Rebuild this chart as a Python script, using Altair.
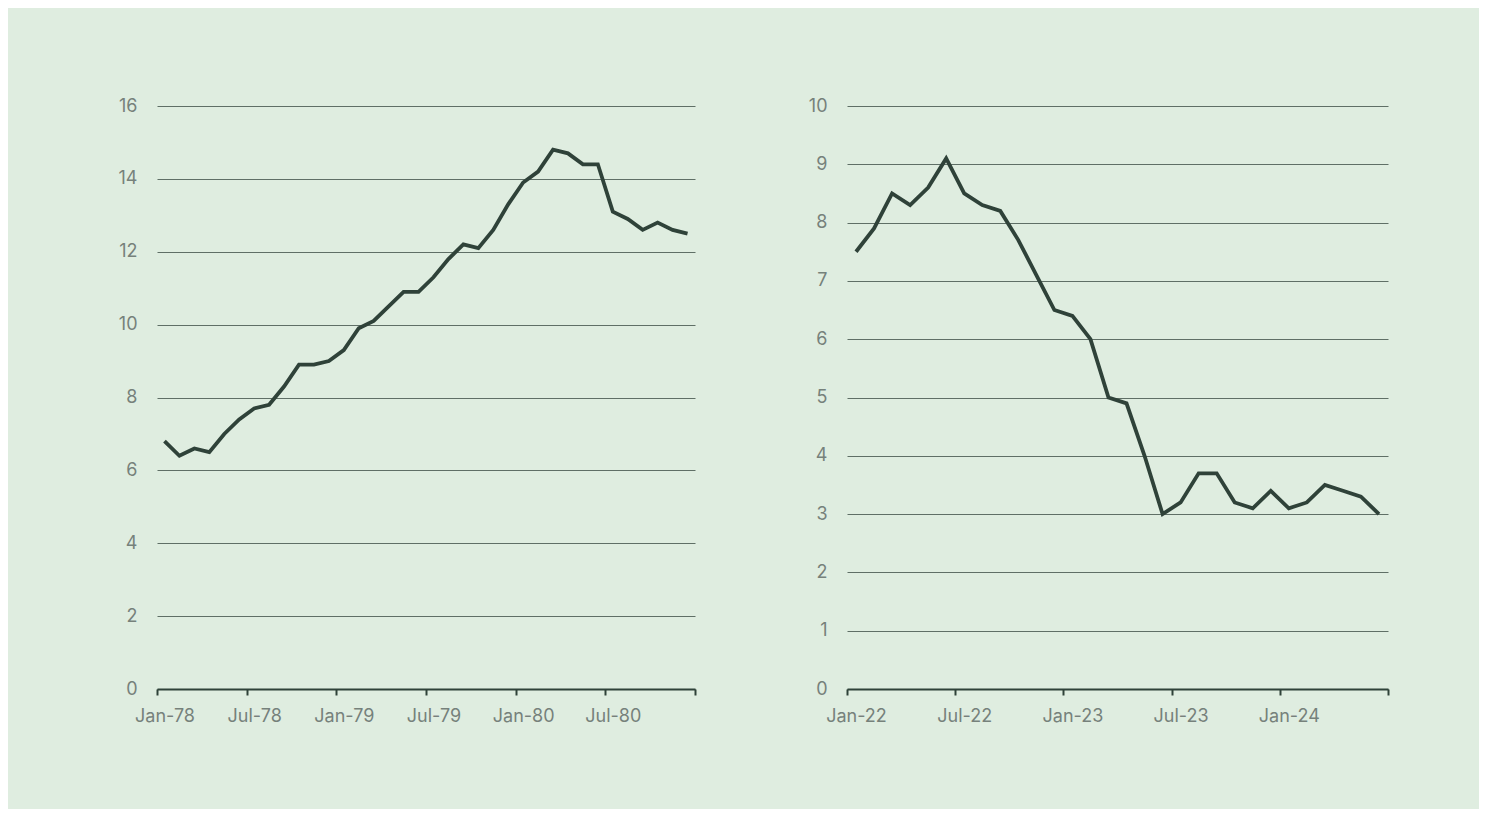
import altair as alt
import pandas as pd

# US CPI inflation, % year on year (monthly)
cpi_1978_1980 = [6.8, 6.4, 6.6, 6.5, 7.0, 7.4, 7.7, 7.8, 8.3, 8.9, 8.9, 9.0,
                 9.3, 9.9, 10.1, 10.5, 10.9, 10.9, 11.3, 11.8, 12.2, 12.1, 12.6, 13.3,
                 13.9, 14.2, 14.8, 14.7, 14.4, 14.4, 13.1, 12.9, 12.6, 12.8, 12.6, 12.5]
cpi_2022_2024 = [7.5, 7.9, 8.5, 8.3, 8.6, 9.1, 8.5, 8.3, 8.2, 7.7, 7.1, 6.5,
                 6.4, 6.0, 5.0, 4.9, 4.0, 3.0, 3.2, 3.7, 3.7, 3.2, 3.1, 3.4,
                 3.1, 3.2, 3.5, 3.4, 3.3, 3.0]
left_tick_labels = ["Jan-78", "Jul-78", "Jan-79", "Jul-79", "Jan-80", "Jul-80", ""]
right_tick_labels = ["Jan-22", "Jul-22", "Jan-23", "Jul-23", "Jan-24", ""]

LINE = "#2f4239"
GRID = "#5f6f66"
LABEL = "#76817b"
BG = "#dfede0"
FONT = "Inter"


def panel(values, labels, ymax, ystep, label_off, width):
    n_months = (len(labels) - 1) * 6
    df = pd.DataFrame({"m": [i + 0.5 for i in range(len(values))], "v": values})
    expr = "[" + ",".join(f"'{l}'" for l in labels) + "][round(datum.value/6)]"
    return alt.Chart(df).mark_line(color=LINE, strokeWidth=3.8).encode(
        x=alt.X("m:Q",
                scale=alt.Scale(domain=[0, n_months], nice=False, zero=False),
                axis=alt.Axis(values=list(range(0, n_months + 1, 6)), labelExpr=expr,
                              labelOffset=label_off, labelFlush=False, title=None,
                              grid=False, domain=True, domainColor=LINE, domainWidth=2,
                              ticks=True, tickSize=6, tickColor=LINE, tickWidth=2,
                              labelPadding=12, labelFontSize=18, labelColor=LABEL,
                              labelFont=FONT)),
        y=alt.Y("v:Q",
                scale=alt.Scale(domain=[0, ymax], nice=False),
                axis=alt.Axis(values=list(range(0, ymax + 1, ystep)), title=None,
                              grid=True, gridColor=GRID, gridWidth=1, domain=False,
                              ticks=False, labelPadding=20, labelFontSize=18,
                              labelColor=LABEL, labelFont=FONT)),
    ).properties(width=width, height=583)


left = panel(cpi_1978_1980, left_tick_labels, 16, 2, 7.5, 538)
right = panel(cpi_2022_2024, right_tick_labels, 10, 1, 9, 541)

chart = alt.hconcat(left, right, spacing=112).properties(
    background=BG,
    padding={"left": 110, "top": 89, "right": 90, "bottom": 84},
).configure_view(stroke=None)

chart.save("out.html", embed_options={"renderer": "svg", "actions": False})
